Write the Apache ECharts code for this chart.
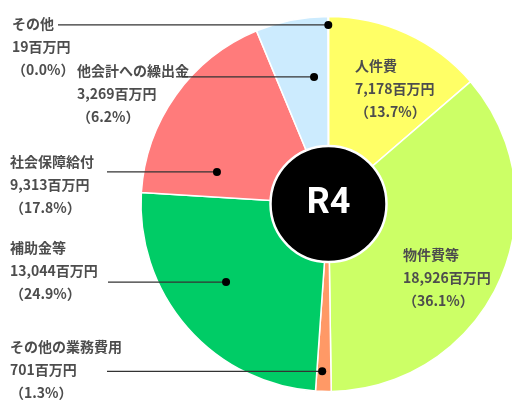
<!DOCTYPE html>
<html>
<head>
<meta charset="utf-8">
<script src="https://cdn.jsdelivr.net/npm/echarts@6/dist/echarts.min.js"></script>
<style>
  html, body { margin: 0; padding: 0; background: #fff; }
  #chart { width: 512px; height: 402px; }
</style>
</head>
<body>
<div id="chart"></div>
<script>
// data (百万円), clockwise from 12 o'clock
var names = ['人件費', '物件費等', 'その他の業務費用', '補助金等', '社会保障給付', '他会計への繰出金', 'その他']
var values = [7178, 18926, 701, 13044, 9313, 3269, 19]
var colors = ['#FFFF66', '#CCFF66', '#FF9966', '#00CC66', '#FF7B7B', '#CCEBFE', '#CCEBFE']
var centerText = 'R4'

// label layout: text box top-left, line start x, dot [radius fraction, position inside slice 0..1]
var labelBox = [[355, 54], [403, 243], [10, 335], [10, 236], [10, 150], [77, 59], [12, 12]]
var lineStartX = [null, null, 107, 108, 107, 182, 58]
var dotPos = [null, null, [0.893, 0.62], [0.687, 0.544], [0.619, 0.196], [0.682, 0.717], [0.955, 0.5]]

var center = [328.5, 204]
var radius = 187.5
var total = values.reduce(function (a, b) { return a + b }, 0)

var fmt = function (v) {
  return v.toString().replace(/\B(?=(\d{3})+(?!\d))/g, ',')
}

var pieData = names.map(function (n, i) {
  return { name: n, value: values[i], itemStyle: { color: colors[i] } }
})

// angle for each annotation (in value units of the angle axis)
var annData = []
var cum = 0
for (var i = 0; i < values.length; i++) {
  var r = 0
  var a = cum + values[i] / 2
  if (dotPos[i]) {
    r = dotPos[i][0]
    a = cum + values[i] * dotPos[i][1]
  }
  annData.push([r, a, i])
  cum += values[i]
}

var font = 'bold 14px "Noto Sans CJK JP", sans-serif'

var chart = echarts.init(document.getElementById('chart'))
chart.setOption({
  animation: false,
  polar: { center: center, radius: radius },
  angleAxis: { type: 'value', min: 0, max: total, startAngle: 90, clockwise: true, show: false },
  radiusAxis: { type: 'value', min: 0, max: 1, show: false },
  series: [
    {
      type: 'pie',
      center: center,
      radius: radius,
      startAngle: 90,
      clockwise: true,
      label: { show: false },
      labelLine: { show: false },
      emphasis: { disabled: true },
      itemStyle: { borderColor: '#fff', borderWidth: 1.5 },
      data: pieData
    },
    {
      type: 'pie',
      center: center,
      radius: [0, 58],
      silent: true,
      z: 5,
      label: {
        show: true,
        position: 'center',
        formatter: centerText,
        color: '#fff',
        fontSize: 36,
        fontWeight: 'bold',
        fontFamily: 'Roboto, "Noto Sans CJK JP", sans-serif'
      },
      labelLine: { show: false },
      itemStyle: { color: '#000', borderColor: '#fff', borderWidth: 2.5 },
      data: [{ name: centerText, value: 1 }]
    },
    {
      type: 'custom',
      coordinateSystem: 'polar',
      z: 10,
      silent: true,
      data: annData,
      renderItem: function (params, api) {
        var idx = api.value(2)
        var pct = (values[idx] / total * 100).toFixed(1)
        var children = [{
          type: 'text',
          style: {
            text: names[idx] + '\n' + fmt(values[idx]) + '百万円\n（' + pct + '%）',
            x: labelBox[idx][0],
            y: labelBox[idx][1],
            font: font,
            fill: '#4d4d4d',
            lineHeight: 23,
            align: 'left',
            verticalAlign: 'top'
          }
        }]
        if (dotPos[idx]) {
          var pt = api.coord([api.value(0), api.value(1)])
          children.push({
            type: 'line',
            shape: { x1: lineStartX[idx], y1: pt[1], x2: pt[0], y2: pt[1] },
            style: { stroke: '#333', lineWidth: 1.2 }
          })
          children.push({
            type: 'circle',
            shape: { cx: pt[0], cy: pt[1], r: 4 },
            style: { fill: '#000' }
          })
        }
        return { type: 'group', children: children }
      }
    }
  ]
})
</script>
</body>
</html>
